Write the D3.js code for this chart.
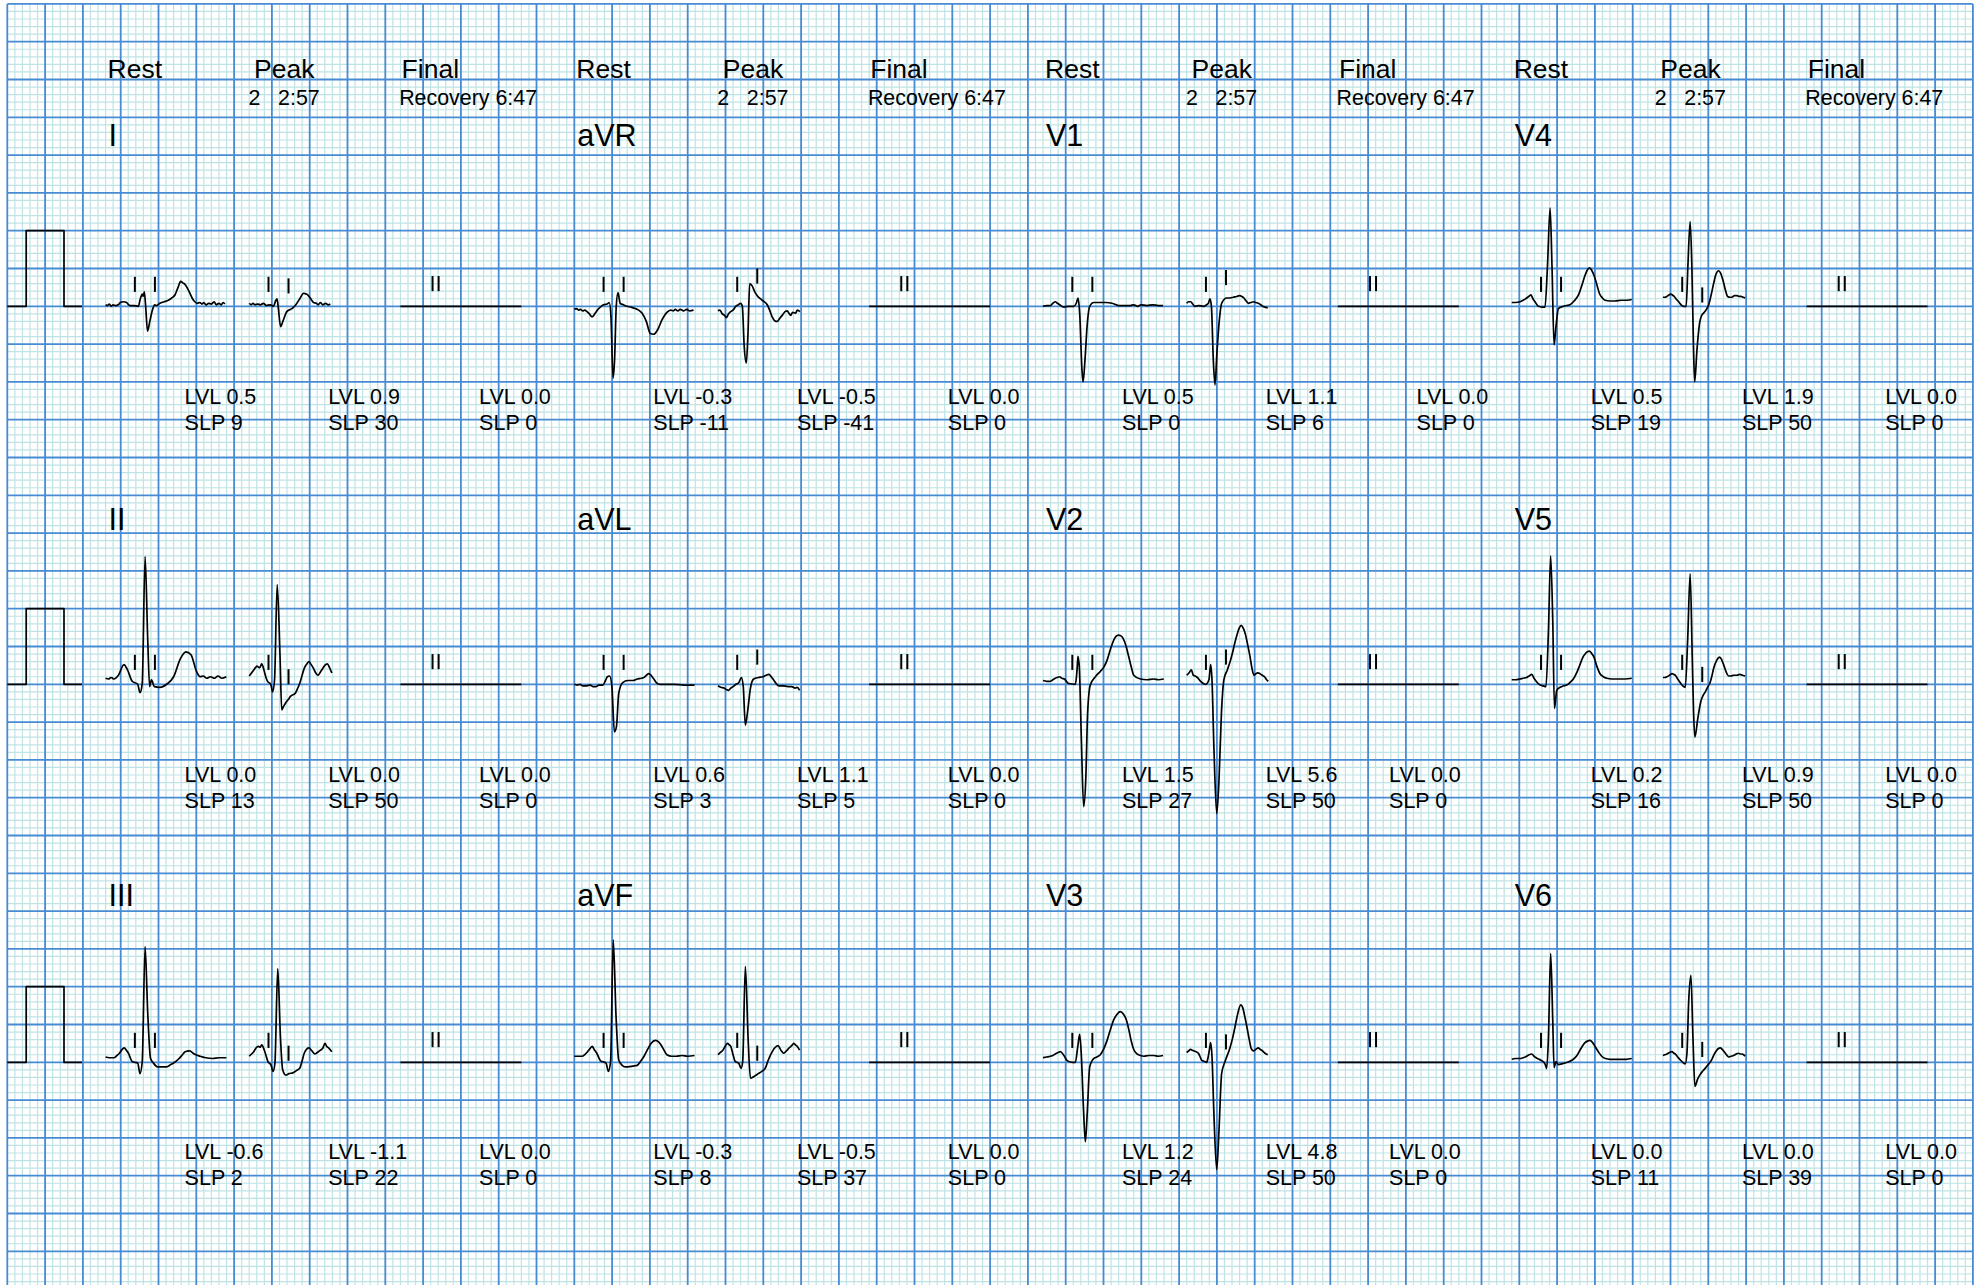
<!DOCTYPE html>
<html>
<head>
<meta charset="utf-8">
<script src="https://cdn.jsdelivr.net/npm/d3@7"></script>
<style>
  html, body { margin: 0; padding: 0; background: #fff; }
  svg { display: block; }
  text { font-family: "Liberation Sans", Arial, Helvetica, sans-serif; fill: #000; }
</style>
</head>
<body>
<svg id="chart" width="1982" height="1285"></svg>
<script>
// ---------------- data ----------------
const leadNames = ["I", "II", "III", "aVR", "aVL", "aVF", "V1", "V2", "V3", "V4", "V5", "V6"];
const stageNames = ["Rest", "Peak", "Final"];
const peakStage = "2";
const peakTime = "2:57";
const finalNote = "Recovery 6:47";

// ST level (mm) and slope for each lead at each stage
const levelRest  = [0.5, 0.0, -0.6, -0.3, 0.6, -0.3, 0.5, 1.5, 1.2, 0.5, 0.2, 0.0];
const slopeRest  = [9, 13, 2, -11, 3, 8, 0, 27, 24, 19, 16, 11];
const levelPeak  = [0.9, 0.0, -1.1, -0.5, 1.1, -0.5, 1.1, 5.6, 4.8, 1.9, 0.9, 0.0];
const slopePeak  = [30, 50, 22, -41, 5, 37, 6, 50, 50, 50, 50, 39];
const levelFinal = [0.0, 0.0, 0.0, 0.0, 0.0, 0.0, 0.0, 0.0, 0.0, 0.0, 0.0, 0.0];
const slopeFinal = [0, 0, 0, 0, 0, 0, 0, 0, 0, 0, 0, 0];

// 1 mV calibration pulse: [ms, mV]
const calPulse = [[0, 0], [100, 0], [100, 1], [300, 1], [300, 0], [395, 0]];

// median beats: [ms from segment start, mV]
const restI = [[0,0.02],[10,0.01],[20,0.03],[30,0.00],[40,0.02],[52,0.01],[67,0.02],[78,0.05],[95,0.06],[111,0.05],[122,0.02],[129,0.01],[150,0.01],[173,0.00],[185,0.11],[194,0.16],[199,0.13],[205,0.19],[212,0.00],[222,-0.33],[234,-0.20],[249,-0.04],[260,0.02],[270,0.01],[287,0.04],[310,0.06],[332,0.08],[350,0.11],[367,0.15],[385,0.26],[397,0.33],[408,0.31],[420,0.29],[443,0.19],[460,0.10],[472,0.06],[485,0.04],[499,0.05],[510,0.03],[520,0.05],[532,0.02],[545,0.04],[560,0.03],[575,0.06],[585,0.02],[600,0.04],[612,0.02],[622,0.05],[631,0.03]];
const peakI = [[0,0.04],[10,0.02],[20,0.04],[30,0.02],[45,0.03],[60,0.02],[75,0.04],[90,0.01],[111,0.02],[128,0.00],[141,0.08],[147,0.10],[153,0.00],[166,-0.27],[178,-0.20],[199,-0.07],[226,-0.03],[240,0.00],[252,0.04],[270,0.11],[287,0.17],[305,0.16],[323,0.11],[340,0.05],[355,0.04],[365,0.02],[376,0.05],[390,0.02],[405,0.04],[418,0.02],[429,0.03]];

const restII = [[0,0.08],[15,0.07],[30,0.09],[44,0.07],[68,0.12],[97,0.26],[116,0.19],[141,0.04],[170,0.00],[182,-0.11],[194,0.01],[209,1.69],[223,0.59],[233,-0.03],[243,0.06],[258,-0.03],[287,-0.04],[323,0.00],[360,0.10],[396,0.34],[425,0.43],[452,0.39],[481,0.17],[500,0.10],[517,0.11],[535,0.08],[555,0.10],[576,0.08],[595,0.11],[615,0.08],[639,0.10]];
const peakII = [[0,0.11],[12,0.15],[24,0.19],[33,0.22],[41,0.24],[48,0.23],[56,0.22],[66,0.27],[80,0.17],[90,0.08],[97,0.04],[114,0.00],[124,-0.10],[134,0.06],[148,1.32],[163,0.37],[172,-0.34],[180,-0.30],[187,-0.27],[200,-0.22],[210,-0.19],[218,-0.16],[230,-0.14],[243,-0.12],[255,-0.06],[267,0.01],[280,0.12],[291,0.21],[305,0.27],[316,0.30],[328,0.26],[340,0.21],[352,0.15],[364,0.12],[376,0.16],[389,0.21],[400,0.25],[413,0.27],[425,0.22],[437,0.15]];

const restIII = [[0,0.07],[20,0.06],[44,0.06],[60,0.09],[73,0.12],[88,0.17],[99,0.19],[110,0.16],[121,0.12],[141,0.01],[170,-0.01],[182,-0.15],[194,0.01],[209,1.53],[223,0.65],[238,0.05],[253,-0.01],[275,-0.06],[300,-0.06],[323,-0.06],[345,-0.03],[360,-0.01],[389,0.05],[410,0.11],[421,0.14],[444,0.15],[469,0.11],[500,0.08],[530,0.06],[566,0.05],[600,0.06],[639,0.06]];
const peakIII = [[0,0.08],[12,0.11],[24,0.14],[36,0.19],[49,0.21],[58,0.20],[66,0.23],[80,0.16],[99,0.01],[116,-0.04],[126,-0.12],[136,-0.01],[151,1.24],[165,0.34],[177,-0.10],[194,-0.17],[210,-0.15],[231,-0.14],[250,-0.11],[267,-0.08],[280,0.02],[291,0.12],[316,0.19],[332,0.15],[348,0.11],[360,0.13],[377,0.16],[390,0.19],[401,0.25],[410,0.21],[420,0.19],[437,0.14]];

const restAVR = [[0,-0.04],[12,-0.03],[22,-0.05],[32,-0.04],[45,-0.06],[55,-0.05],[67,-0.07],[80,-0.10],[94,-0.14],[111,-0.09],[125,-0.04],[138,-0.01],[155,0.02],[173,0.03],[185,0.05],[194,-0.14],[205,-0.95],[213,-0.71],[222,0.00],[231,0.18],[243,0.04],[260,0.02],[279,0.00],[300,-0.01],[323,-0.03],[340,-0.05],[358,-0.09],[381,-0.20],[402,-0.36],[420,-0.37],[441,-0.31],[464,-0.18],[490,-0.08],[510,-0.05],[525,-0.06],[534,-0.04],[548,-0.06],[560,-0.04],[578,-0.06],[595,-0.04],[610,-0.06],[631,-0.05]];
const peakAVR = [[0,-0.06],[10,-0.05],[23,-0.10],[35,-0.12],[44,-0.15],[56,-0.10],[67,-0.07],[80,-0.05],[94,0.00],[108,0.02],[120,0.04],[129,0.00],[139,-0.53],[150,-0.75],[159,-0.36],[168,0.30],[181,0.27],[195,0.19],[208,0.14],[234,0.08],[261,0.02],[275,-0.06],[287,-0.14],[300,-0.19],[314,-0.20],[327,-0.16],[340,-0.12],[355,-0.07],[367,-0.06],[375,-0.09],[385,-0.12],[395,-0.08],[411,-0.09],[420,-0.05],[434,-0.07]];

const restAVL = [[0,0.00],[15,-0.01],[30,0.00],[45,-0.02],[66,-0.02],[85,-0.01],[100,-0.03],[114,-0.03],[130,-0.01],[151,-0.01],[165,0.05],[175,0.10],[187,0.11],[199,-0.03],[212,-0.63],[223,-0.56],[235,-0.12],[255,0.02],[284,0.05],[310,0.05],[333,0.07],[355,0.08],[369,0.09],[394,0.14],[418,0.08],[435,0.02],[454,0.00],[480,0.00],[527,0.00],[580,-0.01],[636,-0.01]];
const peakAVL = [[0,-0.02],[15,-0.04],[32,-0.05],[45,-0.07],[56,-0.08],[68,-0.05],[80,-0.03],[95,0.00],[110,0.02],[124,0.09],[134,-0.03],[145,-0.54],[158,-0.34],[172,-0.05],[189,0.07],[214,0.09],[238,0.10],[255,0.12],[270,0.13],[282,0.10],[294,0.06],[308,0.01],[323,-0.02],[345,-0.02],[371,-0.03],[390,-0.03],[408,-0.05],[420,-0.04],[432,-0.08]];

const restAVF = [[0,0.08],[20,0.08],[41,0.08],[55,0.10],[70,0.14],[83,0.18],[95,0.21],[105,0.17],[119,0.12],[139,0.02],[168,-0.01],[180,-0.12],[192,0.01],[206,1.62],[221,0.60],[235,0.03],[253,-0.04],[270,-0.06],[284,-0.06],[310,-0.05],[333,-0.04],[350,0.01],[369,0.08],[390,0.18],[406,0.25],[430,0.29],[459,0.23],[475,0.16],[490,0.10],[515,0.08],[539,0.08],[570,0.09],[600,0.08],[636,0.09]];
const peakAVF = [[0,0.10],[13,0.13],[26,0.16],[38,0.21],[51,0.25],[60,0.23],[68,0.21],[80,0.10],[92,0.01],[110,-0.01],[122,-0.08],[131,0.01],[145,1.27],[160,0.29],[172,-0.21],[189,-0.19],[214,-0.15],[232,-0.12],[250,-0.08],[265,0.02],[279,0.10],[300,0.19],[318,0.22],[333,0.16],[348,0.12],[362,0.15],[377,0.19],[390,0.22],[401,0.25],[410,0.23],[420,0.21],[432,0.16]];

const restV1 = [[0,0.00],[20,0.01],[39,0.01],[52,0.04],[65,0.06],[76,0.04],[88,0.02],[110,-0.01],[135,0.00],[162,0.00],[176,0.04],[185,0.11],[194,-0.09],[206,-0.84],[212,-1.00],[222,-0.71],[233,-0.27],[247,0.00],[268,0.05],[303,0.05],[335,0.05],[365,0.04],[400,0.01],[430,0.01],[462,0.01],[480,0.02],[500,0.00],[520,0.02],[550,0.01],[580,0.02],[610,0.01],[635,0.01]];
const peakV1 = [[0,0.04],[10,0.06],[21,0.06],[32,0.03],[44,0.00],[65,0.01],[88,0.00],[105,0.02],[115,0.04],[123,0.10],[131,0.00],[141,-0.71],[150,-1.04],[160,-0.62],[173,-0.18],[185,0.04],[212,0.11],[230,0.11],[247,0.12],[265,0.13],[279,0.14],[292,0.13],[303,0.11],[315,0.07],[326,0.04],[340,0.05],[353,0.06],[366,0.05],[379,0.04],[392,0.02],[402,0.00],[429,-0.02]];

const restV2 = [[0,0.05],[20,0.04],[39,0.04],[52,0.06],[65,0.08],[75,0.09],[88,0.10],[100,0.08],[113,0.07],[136,0.01],[171,0.00],[177,0.10],[180,0.19],[185,0.37],[192,0.23],[203,-0.74],[215,-1.62],[226,-1.27],[236,-0.38],[250,-0.01],[277,0.10],[303,0.17],[320,0.22],[339,0.32],[355,0.45],[370,0.56],[385,0.63],[400,0.65],[412,0.64],[423,0.61],[440,0.50],[453,0.37],[468,0.22],[480,0.12],[515,0.07],[550,0.06],[586,0.07],[610,0.06],[639,0.07]];
const peakV2 = [[0,0.12],[12,0.15],[25,0.19],[35,0.12],[45,0.11],[57,0.09],[74,0.04],[101,0.00],[118,0.06],[127,0.26],[134,0.06],[144,-0.82],[159,-1.71],[171,-1.27],[184,-0.38],[197,0.06],[215,0.19],[230,0.30],[242,0.41],[255,0.55],[268,0.67],[279,0.75],[289,0.78],[300,0.74],[312,0.65],[323,0.52],[335,0.37],[345,0.22],[356,0.12],[366,0.14],[377,0.15],[388,0.14],[400,0.12],[412,0.10],[423,0.06],[432,0.04]];

const restV3 = [[0,0.06],[20,0.07],[39,0.08],[52,0.09],[65,0.11],[80,0.13],[92,0.14],[102,0.12],[113,0.08],[125,0.03],[136,0.01],[155,0.00],[171,0.00],[184,0.21],[194,0.37],[203,0.08],[215,-0.67],[224,-1.05],[234,-0.67],[247,-0.06],[268,0.05],[285,0.07],[303,0.10],[320,0.17],[339,0.29],[355,0.42],[374,0.56],[390,0.63],[409,0.67],[425,0.64],[441,0.56],[455,0.42],[466,0.29],[480,0.17],[497,0.11],[515,0.09],[533,0.08],[560,0.09],[586,0.09],[610,0.08],[635,0.09]];
const peakV3 = [[0,0.13],[10,0.15],[21,0.17],[30,0.16],[39,0.15],[50,0.14],[62,0.12],[70,0.08],[79,0.03],[95,0.01],[106,0.00],[113,0.06],[120,0.16],[127,0.26],[134,0.08],[144,-0.67],[159,-1.42],[171,-0.90],[185,-0.15],[203,0.01],[229,0.19],[243,0.32],[256,0.47],[270,0.64],[286,0.76],[297,0.72],[308,0.60],[320,0.45],[332,0.29],[342,0.18],[353,0.15],[365,0.17],[379,0.19],[390,0.17],[402,0.15],[415,0.12],[429,0.10]];

const restV4 = [[0,0.05],[20,0.05],[44,0.06],[60,0.08],[79,0.11],[90,0.13],[102,0.15],[112,0.10],[123,0.06],[141,0.00],[160,-0.01],[176,-0.01],[189,0.53],[203,1.30],[213,0.53],[224,-0.51],[234,-0.27],[247,-0.03],[273,0.00],[290,0.01],[308,0.02],[330,0.07],[353,0.15],[370,0.27],[388,0.41],[400,0.48],[411,0.51],[422,0.48],[435,0.41],[450,0.29],[464,0.17],[480,0.11],[494,0.08],[520,0.07],[546,0.07],[580,0.08],[610,0.08],[635,0.09]];
const peakV4 = [[0,0.12],[10,0.12],[21,0.13],[32,0.15],[42,0.16],[50,0.15],[60,0.13],[72,0.09],[83,0.06],[96,0.02],[109,0.00],[123,0.00],[132,0.53],[144,1.12],[153,0.53],[162,-0.58],[168,-1.00],[180,-0.58],[194,-0.22],[205,-0.12],[215,-0.09],[230,-0.04],[242,0.02],[255,0.15],[268,0.30],[280,0.42],[295,0.47],[305,0.44],[317,0.35],[330,0.22],[342,0.13],[355,0.12],[365,0.12],[378,0.14],[391,0.14],[402,0.13],[413,0.13],[425,0.12],[435,0.11]];

const restV5 = [[0,0.06],[20,0.06],[44,0.07],[60,0.08],[79,0.09],[92,0.11],[106,0.13],[118,0.08],[129,0.04],[150,-0.01],[165,-0.02],[181,-0.03],[194,0.69],[206,1.70],[217,0.84],[226,-0.32],[238,-0.08],[256,-0.04],[275,-0.02],[291,-0.01],[310,0.03],[326,0.07],[345,0.16],[361,0.26],[375,0.35],[388,0.40],[400,0.43],[411,0.44],[422,0.41],[435,0.36],[450,0.24],[467,0.14],[485,0.10],[503,0.08],[530,0.07],[564,0.07],[600,0.07],[635,0.08]];
const peakV5 = [[0,0.09],[10,0.09],[21,0.10],[35,0.12],[48,0.14],[58,0.13],[65,0.12],[78,0.07],[92,0.02],[105,-0.02],[118,-0.04],[131,0.60],[144,1.46],[155,0.36],[162,-0.37],[169,-0.70],[184,-0.46],[201,-0.22],[212,-0.15],[224,-0.10],[236,-0.04],[249,0.02],[260,0.12],[268,0.21],[285,0.32],[300,0.36],[310,0.33],[321,0.26],[335,0.16],[348,0.11],[360,0.11],[374,0.12],[390,0.12],[406,0.13],[420,0.12],[435,0.11]];

const restV6 = [[0,0.04],[20,0.05],[44,0.05],[60,0.06],[79,0.08],[92,0.10],[106,0.11],[118,0.08],[129,0.06],[145,0.04],[159,0.02],[176,-0.02],[185,-0.08],[194,0.31],[206,1.44],[217,0.55],[224,-0.07],[234,0.01],[247,-0.03],[265,-0.02],[282,-0.01],[305,0.01],[326,0.04],[345,0.09],[361,0.16],[375,0.22],[388,0.26],[400,0.28],[414,0.29],[428,0.26],[441,0.21],[458,0.14],[476,0.08],[495,0.05],[520,0.04],[545,0.04],[573,0.04],[605,0.04],[635,0.05]];
const peakV6 = [[0,0.09],[10,0.10],[21,0.11],[35,0.13],[48,0.14],[58,0.12],[65,0.11],[78,0.07],[92,0.03],[105,0.00],[118,-0.02],[127,0.12],[136,0.79],[148,1.15],[159,0.31],[169,-0.32],[184,-0.22],[195,-0.17],[206,-0.13],[220,-0.09],[233,-0.05],[246,-0.01],[259,0.04],[270,0.10],[282,0.15],[292,0.18],[303,0.19],[314,0.17],[324,0.14],[336,0.10],[348,0.07],[360,0.08],[374,0.09],[388,0.11],[400,0.12],[410,0.11],[418,0.11],[427,0.10],[435,0.08]];

// recovery stage has no complex: flat trace
const finalFlat = [[0, 0], [640, 0]];

// fiducial marks: [ms, mV at foot of the mark]
const restMarks  = [155, 261];
const peakMarks  = [102, 208];
const finalMarks = [170, 202];
const restMarkLevel = 0.19;
const peakMarkLevel1 = 0.19;
const peakMarkLevel2 = [0.17, 0.00, 0.02, 0.30, 0.26, 0.02, 0.28, 0.26, 0.17, 0.05, 0.03, 0.07];
const finalMarkLevel = 0.2;

const restBeats = [restI, restII, restIII, restAVR, restAVL, restAVF, restV1, restV2, restV3, restV4, restV5, restV6];
const peakBeats = [peakI, peakII, peakIII, peakAVR, peakAVL, peakAVF, peakV1, peakV2, peakV3, peakV4, peakV5, peakV6];

// ---------------- paper geometry ----------------
const MM = 7.56;                 // px per paper millimetre
const MS_PER_MM = 40;            // 25 mm/s
const MV_PER_MM = 0.1;           // 10 mm/mV
const GRID_X0 = 7.3, GRID_Y0 = 3.9, GRID_X1 = 1972.7, GRID_Y1 = 1285;

const svg = d3.select("#chart");
svg.append("rect").attr("width", 1982).attr("height", 1285).attr("fill", "#ffffff");

// paper coordinates in mm
const paperX = d3.scaleLinear().domain([0, 1]).range([GRID_X0, GRID_X0 + MM]);
const paperY = d3.scaleLinear().domain([0, 1]).range([GRID_Y0, GRID_Y0 + MM]);
const nCols = Math.round((GRID_X1 - GRID_X0) / MM);
const nRows = Math.floor((GRID_Y1 - GRID_Y0) / MM);

const grid = svg.append("g").attr("class", "grid");
const xs = d3.range(0, nCols + 1), ys = d3.range(0, nRows + 1);
// minor lines
grid.append("g").selectAll("line").data(xs.filter(k => k % 5)).join("line")
  .attr("x1", k => paperX(k)).attr("x2", k => paperX(k))
  .attr("y1", GRID_Y0).attr("y2", GRID_Y1)
  .attr("stroke", "#bfe3e5").attr("stroke-width", 1.2);
grid.append("g").selectAll("line").data(ys.filter(k => k % 5)).join("line")
  .attr("y1", k => paperY(k)).attr("y2", k => paperY(k))
  .attr("x1", GRID_X0).attr("x2", GRID_X1)
  .attr("stroke", "#bfe3e5").attr("stroke-width", 1.2);
// major lines
grid.append("g").selectAll("line").data(xs.filter(k => k % 5 === 0)).join("line")
  .attr("x1", k => paperX(k)).attr("x2", k => paperX(k))
  .attr("y1", GRID_Y0).attr("y2", GRID_Y1)
  .attr("stroke", "#478bd3").attr("stroke-width", 1.8);
grid.append("g").selectAll("line").data(ys.filter(k => k % 5 === 0)).join("line")
  .attr("y1", k => paperY(k)).attr("y2", k => paperY(k))
  .attr("x1", GRID_X0).attr("x2", GRID_X1)
  .attr("stroke", "#478bd3").attr("stroke-width", 1.8);

// ---------------- layout ----------------
const colStartMM = c => 13 + 62 * c;          // rest segment start
const peakOffsetMM = [19, 19, 19, 20];         // peak segment start after rest start
const finalOffsetMM = 39;                      // final segment start after rest start
const rowBaseMM = r => 40 + 50 * r;            // isoelectric line of each row
const labelBaseY = [146, 530, 906];
const valueBaseY = [404, 782, 1159];
const finalValueDx = (c, r) => (c === 2 && r > 0) ? 51.2 : 78.7;

const traces = svg.append("g").attr("class", "traces");
const texts = svg.append("g").attr("class", "texts");

function segmentScales(x0, base, durMs) {
  const x = d3.scaleLinear().domain([0, durMs]).range([x0, x0 + durMs / MS_PER_MM * MM]);
  const y = d3.scaleLinear().domain([0, 1]).range([base, base - MM / MV_PER_MM]);
  return { x, y };
}

function drawTrace(data, s, curve) {
  const line = d3.line().x(d => s.x(d[0])).y(d => s.y(d[1])).curve(curve);
  traces.append("path").datum(data).attr("d", line)
    .attr("fill", "none").attr("stroke", "#000").attr("stroke-width", 1.7)
    .attr("stroke-linejoin", "round");
}

function drawMarks(marks, levels, s) {
  traces.append("g").selectAll("line").data(marks.map((t, i) => [t, levels[i]])).join("line")
    .attr("x1", d => s.x(d[0])).attr("x2", d => s.x(d[0]))
    .attr("y1", d => s.y(d[1])).attr("y2", d => s.y(d[1] + 0.2))
    .attr("stroke", "#000").attr("stroke-width", 2);
}

function addText(x, y, str, size) {
  texts.append("text").attr("x", x).attr("y", y).attr("font-size", size).text(str);
}

for (let c = 0; c < 4; c++) {
  const xRest = paperX(colStartMM(c));
  const xPeak = paperX(colStartMM(c) + peakOffsetMM[c]);
  const xFinal = paperX(colStartMM(c) + finalOffsetMM);

  // stage headers
  addText(xRest + 2, 78, stageNames[0], 26.5);
  addText(xRest + 148.5, 78, stageNames[1], 26.5);
  addText(xRest + 296, 78, stageNames[2], 26.5);
  addText(xRest + 143, 105, peakStage, 21.4);
  addText(xRest + 172.5, 105, peakTime, 21.4);
  addText(xRest + 293.6, 105, finalNote, 21.4);

  for (let r = 0; r < 3; r++) {
    const i = c * 3 + r;
    const base = paperY(rowBaseMM(r));

    addText(xRest + 3, labelBaseY[r], leadNames[i], 30.5);

    // calibration pulse on the left of each row
    if (c === 0) {
      drawTrace(calPulse, segmentScales(GRID_X0, base, 395), d3.curveLinear);
    }

    const sRest = segmentScales(xRest, base, 640);
    drawTrace(restBeats[i], sRest, d3.curveMonotoneX);
    drawMarks(restMarks, [restMarkLevel, restMarkLevel], sRest);

    const sPeak = segmentScales(xPeak, base, 440);
    drawTrace(peakBeats[i], sPeak, d3.curveMonotoneX);
    drawMarks(peakMarks, [peakMarkLevel1, peakMarkLevel2[i]], sPeak);

    const sFinal = segmentScales(xFinal, base, 640);
    drawTrace(finalFlat, sFinal, d3.curveLinear);
    drawMarks(finalMarks, [finalMarkLevel, finalMarkLevel], sFinal);

    // ST measurements
    const vy = valueBaseY[r];
    addText(xRest + 79, vy, "LVL " + levelRest[i].toFixed(1), 21.5);
    addText(xRest + 79, vy + 26, "SLP " + slopeRest[i], 21.5);
    addText(xPeak + 79, vy, "LVL " + levelPeak[i].toFixed(1), 21.5);
    addText(xPeak + 79, vy + 26, "SLP " + slopePeak[i], 21.5);
    addText(xFinal + finalValueDx(c, r), vy, "LVL " + levelFinal[i].toFixed(1), 21.5);
    addText(xFinal + finalValueDx(c, r), vy + 26, "SLP " + slopeFinal[i], 21.5);
  }
}
</script>
</body>
</html>
